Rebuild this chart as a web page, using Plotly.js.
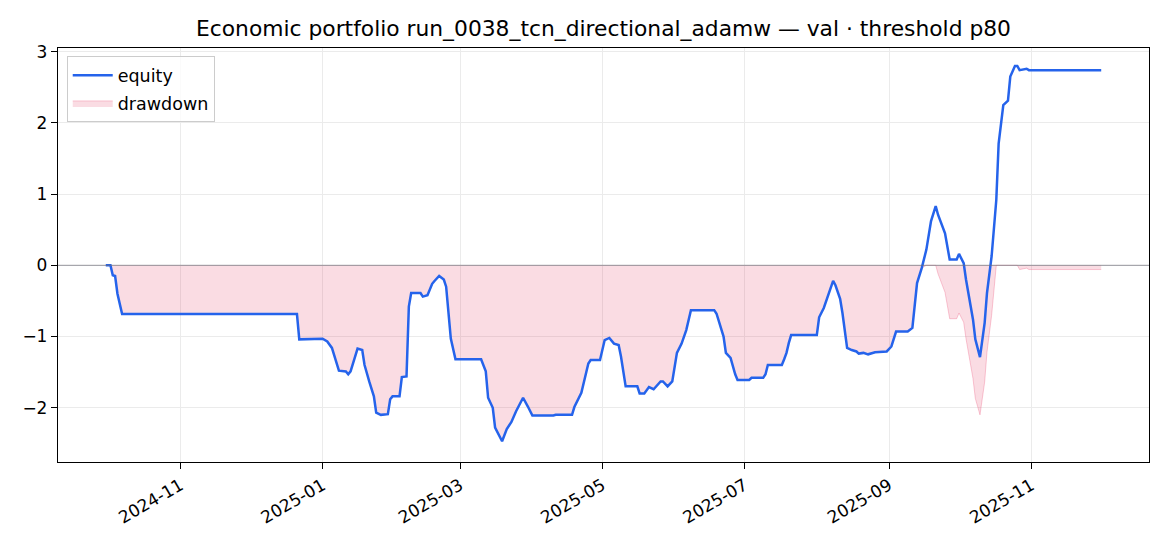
<!DOCTYPE html>
<html>
<head>
<meta charset="utf-8">
<script src="https://cdn.plot.ly/plotly-3.0.1.min.js"></script>
<style>
  html, body { margin: 0; padding: 0; background: #fff; }
  #chart { width: 1170px; height: 546px; }
</style>
</head>
<body>
<div id="chart"></div>
<script>
// valeurs (equity cumulee et drawdown)
const dates = [
  '2024-09-30', '2024-10-02', '2024-10-03', '2024-10-04', '2024-10-05', '2024-10-06', '2024-10-07',
  '2024-12-21', '2024-12-22', '2025-01-01', '2025-01-03', '2025-01-05', '2025-01-06', '2025-01-08',
  '2025-01-11', '2025-01-12', '2025-01-13', '2025-01-15', '2025-01-16', '2025-01-18', '2025-01-19',
  '2025-01-21', '2025-01-23', '2025-01-24', '2025-01-26', '2025-01-29', '2025-01-30', '2025-01-31',
  '2025-02-03', '2025-02-04', '2025-02-06', '2025-02-07', '2025-02-08', '2025-02-12', '2025-02-13',
  '2025-02-15', '2025-02-17', '2025-02-18', '2025-02-20', '2025-02-22', '2025-02-23', '2025-02-25',
  '2025-02-27', '2025-03-10', '2025-03-12', '2025-03-13', '2025-03-15', '2025-03-16', '2025-03-19',
  '2025-03-21', '2025-03-23', '2025-03-25', '2025-03-28', '2025-03-30', '2025-04-01', '2025-04-10',
  '2025-04-11', '2025-04-18', '2025-04-19', '2025-04-22', '2025-04-23', '2025-04-25', '2025-04-26',
  '2025-04-30', '2025-05-02', '2025-05-04', '2025-05-06', '2025-05-08', '2025-05-09', '2025-05-11',
  '2025-05-16', '2025-05-17', '2025-05-19', '2025-05-21', '2025-05-23', '2025-05-26', '2025-05-27',
  '2025-05-29', '2025-05-31', '2025-06-02', '2025-06-04', '2025-06-06', '2025-06-08', '2025-06-18',
  '2025-06-19', '2025-06-20', '2025-06-22', '2025-06-23', '2025-06-25', '2025-06-27', '2025-06-28',
  '2025-07-03', '2025-07-04', '2025-07-09', '2025-07-10', '2025-07-11', '2025-07-17', '2025-07-18',
  '2025-07-19', '2025-07-20', '2025-07-21', '2025-08-01', '2025-08-02', '2025-08-04', '2025-08-05',
  '2025-08-08', '2025-08-09', '2025-08-11', '2025-08-12', '2025-08-14', '2025-08-16', '2025-08-18',
  '2025-08-19', '2025-08-21', '2025-08-23', '2025-08-26', '2025-08-31', '2025-09-02', '2025-09-04',
  '2025-09-09', '2025-09-11', '2025-09-13', '2025-09-15', '2025-09-17', '2025-09-19', '2025-09-21',
  '2025-09-22', '2025-09-25', '2025-09-27', '2025-09-30', '2025-10-01', '2025-10-03', '2025-10-04',
  '2025-10-07', '2025-10-08', '2025-10-10', '2025-10-12', '2025-10-13', '2025-10-15', '2025-10-17',
  '2025-10-18', '2025-10-20', '2025-10-22', '2025-10-23', '2025-10-25', '2025-10-26', '2025-10-27',
  '2025-10-30', '2025-10-31', '2025-12-01'
];

const equity = [
  0, 0, -0.14, -0.15, -0.40, -0.55, -0.685,
  -0.685, -1.04, -1.03, -1.07, -1.16, -1.28, -1.48,
  -1.49, -1.53, -1.49, -1.26, -1.17, -1.19, -1.40,
  -1.63, -1.84, -2.07, -2.10, -2.09, -1.88, -1.84,
  -1.84, -1.57, -1.56, -0.58, -0.39, -0.39, -0.44,
  -0.42, -0.26, -0.22, -0.15, -0.20, -0.30, -1.03,
  -1.32, -1.32, -1.49, -1.86, -2.00, -2.28, -2.47,
  -2.30, -2.20, -2.05, -1.86, -1.98, -2.11, -2.11,
  -2.10, -2.10, -1.99, -1.79, -1.65, -1.38, -1.33,
  -1.33, -1.05, -1.02, -1.10, -1.12, -1.28, -1.70,
  -1.70, -1.80, -1.80, -1.71, -1.74, -1.63, -1.63,
  -1.70, -1.63, -1.23, -1.10, -0.91, -0.63, -0.63,
  -0.68, -0.79, -1.00, -1.23, -1.30, -1.53, -1.61,
  -1.61, -1.58, -1.58, -1.53, -1.40, -1.40, -1.32,
  -1.23, -1.09, -0.98, -0.98, -0.73, -0.60, -0.51,
  -0.22, -0.28, -0.47, -0.67, -1.16, -1.19, -1.21,
  -1.24, -1.23, -1.25, -1.22, -1.21, -1.14, -0.93,
  -0.93, -0.88, -0.25, -0.04, 0.22, 0.62, 0.83,
  0.71, 0.45, 0.08, 0.08, 0.16, 0.03, -0.20,
  -0.76, -1.04, -1.29, -0.81, -0.39, 0.13, 0.92,
  1.71, 2.25, 2.31, 2.65, 2.80, 2.80, 2.74,
  2.76, 2.74, 2.74
];

const drawdown = [
  0, 0, -0.14, -0.15, -0.40, -0.55, -0.685,
  -0.685, -1.04, -1.03, -1.07, -1.16, -1.28, -1.48,
  -1.49, -1.53, -1.49, -1.26, -1.17, -1.19, -1.40,
  -1.63, -1.84, -2.07, -2.10, -2.09, -1.88, -1.84,
  -1.84, -1.57, -1.56, -0.58, -0.39, -0.39, -0.44,
  -0.42, -0.26, -0.22, -0.15, -0.20, -0.30, -1.03,
  -1.32, -1.32, -1.49, -1.86, -2.00, -2.28, -2.47,
  -2.30, -2.20, -2.05, -1.86, -1.98, -2.11, -2.11,
  -2.10, -2.10, -1.99, -1.79, -1.65, -1.38, -1.33,
  -1.33, -1.05, -1.02, -1.10, -1.12, -1.28, -1.70,
  -1.70, -1.80, -1.80, -1.71, -1.74, -1.63, -1.63,
  -1.70, -1.63, -1.23, -1.10, -0.91, -0.63, -0.63,
  -0.68, -0.79, -1.00, -1.23, -1.30, -1.53, -1.61,
  -1.61, -1.58, -1.58, -1.53, -1.40, -1.40, -1.32,
  -1.23, -1.09, -0.98, -0.98, -0.73, -0.60, -0.51,
  -0.22, -0.28, -0.47, -0.67, -1.16, -1.19, -1.21,
  -1.24, -1.23, -1.25, -1.22, -1.21, -1.14, -0.93,
  -0.93, -0.88, -0.25, -0.04, 0, 0, 0,
  -0.12, -0.38, -0.75, -0.75, -0.67, -0.80, -1.03,
  -1.59, -1.87, -2.10, -1.64, -1.22, -0.70, 0,
  0, 0, 0, 0, 0, 0, -0.06,
  -0.04, -0.06, -0.06
];

const chartTitle = 'Economic portfolio run_0038_tcn_directional_adamw — val · threshold p80';
const FONT = 'DejaVu Sans, Liberation Sans, sans-serif';

const ddTrace = {
  type: 'scatter',
  mode: 'lines',
  name: 'drawdown',
  legendgroup: 'dd',
  x: dates,
  y: drawdown,
  fill: 'tozeroy',
  fillcolor: 'rgba(225,45,90,0.17)',
  line: { color: 'rgba(235,80,120,0.3)', width: 1 },
  legendrank: 2
};

const eqTrace = {
  type: 'scatter',
  mode: 'lines',
  name: 'equity',
  legendgroup: 'eq',
  x: dates,
  y: equity,
  line: { color: '#2563eb', width: 2.5 },
  legendrank: 1
};

const axisStyle = {
  showline: true,
  linecolor: '#000',
  linewidth: 1.3,
  mirror: true,
  ticks: 'outside',
  ticklen: 6,
  tickwidth: 1.3,
  tickcolor: '#000',
  showgrid: true,
  gridcolor: '#ebebeb',
  gridwidth: 1.2,
  zeroline: false,
  automargin: false,
  tickfont: { family: FONT, size: 17, color: '#000' }
};

const layout = {
  width: 1170,
  height: 546,
  margin: { l: 58, r: 21, t: 48, b: 84 },
  paper_bgcolor: '#fff',
  plot_bgcolor: '#fff',
  font: { family: FONT, color: '#000' },
  title: {
    text: chartTitle,
    font: { family: FONT, size: 21.8, color: '#000' },
    x: 0.5,
    xref: 'paper',
    xanchor: 'center',
    y: 1 - 28 / 546,
    yref: 'container',
    yanchor: 'middle'
  },
  xaxis: {
    ...axisStyle,
    type: 'date',
    range: ['2024-09-09 12:00', '2025-12-21 12:00'],
    tick0: '2024-11-01',
    dtick: 'M2',
    tickformat: '%Y-%m',
    tickangle: -30
  },
  yaxis: {
    ...axisStyle,
    range: [-2.762, 3.051],
    tick0: 0,
    dtick: 1
  },
  shapes: [{
    type: 'line',
    xref: 'paper', x0: 0, x1: 1,
    yref: 'y', y0: 0, y1: 0,
    line: { color: 'rgba(110,110,120,0.55)', width: 1.2 },
    layer: 'above'
  }],
  legend: {
    x: 0.008,
    y: 0.98,
    xanchor: 'left',
    yanchor: 'top',
    bgcolor: 'rgba(255,255,255,0.8)',
    bordercolor: '#cccccc',
    borderwidth: 1,
    itemwidth: 40,
    tracegroupgap: 2,
    traceorder: 'grouped',
    font: { family: FONT, size: 17.5, color: '#000' }
  },
  showlegend: true
};

Plotly.newPlot('chart', [ddTrace, eqTrace], layout, { displayModeBar: false, responsive: false });
</script>
</body>
</html>
